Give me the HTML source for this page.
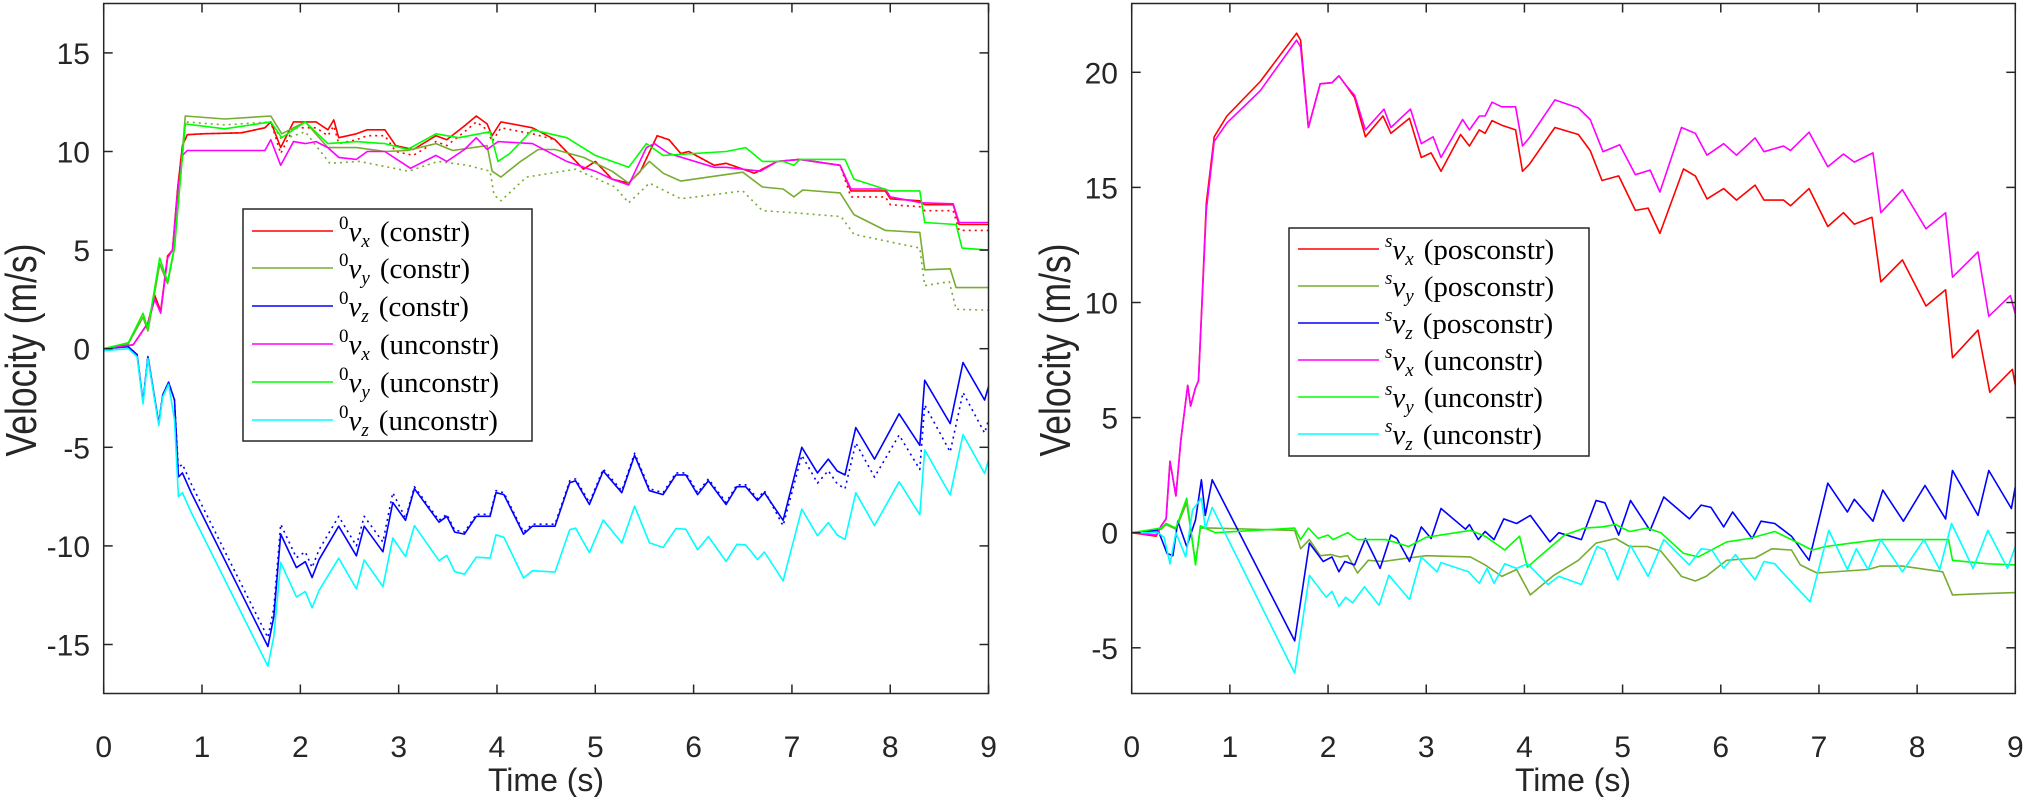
<!DOCTYPE html>
<html><head><meta charset="utf-8">
<style>
html,body{margin:0;padding:0;background:#fff;}
svg{display:block;}
text{font-family:"Liberation Sans",Arial,sans-serif;fill:#262626;}
.lg{font-family:"Liberation Serif",serif;fill:#000;font-size:29px;}
</style></head>
<body>
<svg id="s" width="2025" height="797" viewBox="0 0 2025 797" xmlns="http://www.w3.org/2000/svg">
<rect width="2025" height="797" fill="#fff"/>
<g id="plots"></g>
<g id="axes"></g>
<text x="20" y="350" font-size="44" text-anchor="middle" transform="rotate(-90 20 350)" dy="16" textLength="213" lengthAdjust="spacingAndGlyphs">Velocity (m/s)</text>
<text x="1054" y="350" font-size="44" text-anchor="middle" transform="rotate(-90 1054 350)" dy="16" textLength="213" lengthAdjust="spacingAndGlyphs">Velocity (m/s)</text>
<text x="546" y="791" font-size="32" text-anchor="middle">Time (s)</text>
<text x="1573" y="791" font-size="32" text-anchor="middle">Time (s)</text>
<g>
<rect x="243" y="209" width="289" height="232" fill="#fff" stroke="#262626" stroke-width="1.5"/>
<line x1="252" x2="333" y1="231" y2="231" stroke="#FF0000" stroke-width="1.5"/>
<line x1="252" x2="333" y1="268" y2="268" stroke="#77AC30" stroke-width="1.5"/>
<line x1="252" x2="333" y1="306" y2="306" stroke="#0000FF" stroke-width="1.5"/>
<line x1="252" x2="333" y1="344" y2="344" stroke="#FF00FF" stroke-width="1.5"/>
<line x1="252" x2="333" y1="382" y2="382" stroke="#00FF00" stroke-width="1.5"/>
<line x1="252" x2="333" y1="420" y2="420" stroke="#00FFFF" stroke-width="1.5"/>
<text class="lg" x="339" y="241"><tspan font-size="19" dy="-12">0</tspan><tspan font-style="italic" dy="12">v</tspan><tspan font-style="italic" font-size="19" dy="6">x</tspan><tspan dy="-6" dx="10">(constr)</tspan></text>
<text class="lg" x="339" y="278"><tspan font-size="19" dy="-12">0</tspan><tspan font-style="italic" dy="12">v</tspan><tspan font-style="italic" font-size="19" dy="6">y</tspan><tspan dy="-6" dx="10">(constr)</tspan></text>
<text class="lg" x="339" y="316"><tspan font-size="19" dy="-12">0</tspan><tspan font-style="italic" dy="12">v</tspan><tspan font-style="italic" font-size="19" dy="6">z</tspan><tspan dy="-6" dx="10">(constr)</tspan></text>
<text class="lg" x="339" y="354"><tspan font-size="19" dy="-12">0</tspan><tspan font-style="italic" dy="12">v</tspan><tspan font-style="italic" font-size="19" dy="6">x</tspan><tspan dy="-6" dx="10">(unconstr)</tspan></text>
<text class="lg" x="339" y="392"><tspan font-size="19" dy="-12">0</tspan><tspan font-style="italic" dy="12">v</tspan><tspan font-style="italic" font-size="19" dy="6">y</tspan><tspan dy="-6" dx="10">(unconstr)</tspan></text>
<text class="lg" x="339" y="430"><tspan font-size="19" dy="-12">0</tspan><tspan font-style="italic" dy="12">v</tspan><tspan font-style="italic" font-size="19" dy="6">z</tspan><tspan dy="-6" dx="10">(unconstr)</tspan></text>
</g>
<g>
<rect x="1289" y="228" width="300" height="228" fill="#fff" stroke="#262626" stroke-width="1.5"/>
<line x1="1298" x2="1379" y1="249" y2="249" stroke="#FF0000" stroke-width="1.5"/>
<line x1="1298" x2="1379" y1="286" y2="286" stroke="#77AC30" stroke-width="1.5"/>
<line x1="1298" x2="1379" y1="323" y2="323" stroke="#0000FF" stroke-width="1.5"/>
<line x1="1298" x2="1379" y1="360" y2="360" stroke="#FF00FF" stroke-width="1.5"/>
<line x1="1298" x2="1379" y1="397" y2="397" stroke="#00FF00" stroke-width="1.5"/>
<line x1="1298" x2="1379" y1="434" y2="434" stroke="#00FFFF" stroke-width="1.5"/>
<text class="lg" x="1385" y="259"><tspan font-size="19" dy="-12" font-style="italic">s</tspan><tspan font-style="italic" dy="12">v</tspan><tspan font-style="italic" font-size="19" dy="6">x</tspan><tspan dy="-6" dx="10">(posconstr)</tspan></text>
<text class="lg" x="1385" y="296"><tspan font-size="19" dy="-12" font-style="italic">s</tspan><tspan font-style="italic" dy="12">v</tspan><tspan font-style="italic" font-size="19" dy="6">y</tspan><tspan dy="-6" dx="10">(posconstr)</tspan></text>
<text class="lg" x="1385" y="333"><tspan font-size="19" dy="-12" font-style="italic">s</tspan><tspan font-style="italic" dy="12">v</tspan><tspan font-style="italic" font-size="19" dy="6">z</tspan><tspan dy="-6" dx="10">(posconstr)</tspan></text>
<text class="lg" x="1385" y="370"><tspan font-size="19" dy="-12" font-style="italic">s</tspan><tspan font-style="italic" dy="12">v</tspan><tspan font-style="italic" font-size="19" dy="6">x</tspan><tspan dy="-6" dx="10">(unconstr)</tspan></text>
<text class="lg" x="1385" y="407"><tspan font-size="19" dy="-12" font-style="italic">s</tspan><tspan font-style="italic" dy="12">v</tspan><tspan font-style="italic" font-size="19" dy="6">y</tspan><tspan dy="-6" dx="10">(unconstr)</tspan></text>
<text class="lg" x="1385" y="444"><tspan font-size="19" dy="-12" font-style="italic">s</tspan><tspan font-style="italic" dy="12">v</tspan><tspan font-style="italic" font-size="19" dy="6">z</tspan><tspan dy="-6" dx="10">(unconstr)</tspan></text>
</g>
</svg>
<script>
(function(){
var NS="http://www.w3.org/2000/svg";
var plots=document.getElementById("plots"),axes=document.getElementById("axes");
function el(p,n,a,t){var e=document.createElementNS(NS,n);for(var k in a)e.setAttribute(k,a[k]);if(t!==undefined)e.textContent=t;p.appendChild(e);return e;}
var L={x0:103.7,sx:98.32,y0:348.7,sy:19.72,xr:988.5};
var R={x0:1131.7,sx:98.18,y0:532.7,sy:23.02,xr:2015.3};
var top=3.5,bot=693.5;
function pts(m,d,f){var s=[];for(var i=0;i<d.length;i+=2){var t=d[i],v=d[i+1];if(f)v+=f(t);s.push((m.x0+t*m.sx).toFixed(1)+","+(m.y0-v*m.sy).toFixed(1));}return s.join(" ");}
function line(m,d,c,dash,f){var a={points:pts(m,d,f),fill:"none",stroke:c,"stroke-width":"1.6","stroke-linejoin":"round"};if(dash)a["stroke-dasharray"]="2 4";el(plots,"polyline",a);}
var redC=[0,0,0.3,0.2,0.45,1.3,0.52,2.7,0.58,1.9,0.65,4.7,0.7,5.0,0.75,8,0.8,10.3,0.85,10.85,1.0,10.9,1.4,10.95,1.64,11.2,1.7,11.5,1.8,10.2,1.93,11.5,2.16,11.5,2.28,11.1,2.34,11.6,2.39,10.7,2.57,10.9,2.68,11.1,2.86,11.1,2.97,10.3,3.15,10.1,3.38,10.8,3.49,10.6,3.67,11.3,3.79,11.8,3.9,11.4,3.95,10.8,4.04,11.5,4.36,11.2,4.59,10.6,4.88,9.1,5.0,9.5,5.17,8.6,5.34,8.4,5.46,9.0,5.63,10.8,5.75,10.6,5.87,9.9,5.95,10.0,6.21,9.3,6.33,9.4,6.62,8.9,6.85,9.5,7.08,9.6,7.49,9.3,7.6,8.0,7.95,8.0,8.0,7.6,8.3,7.5,8.35,7.3,8.64,7.3,8.7,6.3,9,6.3];
var magL=[0,0,0.3,0.2,0.45,1.3,0.52,2.5,0.58,1.8,0.65,4.6,0.7,5.0,0.75,7.8,0.8,9.8,0.85,10.05,1.2,10.05,1.64,10.05,1.7,10.6,1.8,9.3,1.93,10.5,2.05,10.4,2.16,10.5,2.28,10.2,2.39,9.7,2.57,9.6,2.68,10,2.86,10,3.12,9.15,3.38,9.8,3.49,9.5,3.67,10.1,3.79,10.7,3.9,10.1,4.01,10.5,4.36,10.4,4.71,9.5,5.0,9.0,5.17,8.6,5.34,8.3,5.52,10.2,5.6,10.4,5.75,9.9,6.21,9.2,6.33,9.2,6.68,9.0,6.85,9.5,7.08,9.6,7.49,9.3,7.6,8.1,7.95,8.1,8.0,7.7,8.32,7.4,8.64,7.35,8.7,6.4,9,6.4];
var limeL=[0,0,0.25,0.3,0.4,1.8,0.45,1.0,0.57,4.6,0.65,3.4,0.72,5.2,0.83,11.4,1.23,11.15,1.7,11.5,1.81,10.7,2.05,11.5,2.28,10.4,2.57,10.5,2.86,10.4,3.09,10.1,3.38,10.9,3.61,10.7,3.93,11.0,4.01,9.5,4.13,9.9,4.36,11.1,4.71,10.7,5.0,9.8,5.34,9.2,5.52,10.4,5.69,9.8,6.33,10.0,6.53,10.2,6.7,9.5,6.91,9.5,7.02,9.3,7.08,9.6,7.54,9.6,7.63,8.6,8.0,8.0,8.3,8.0,8.35,6.4,8.67,6.3,8.73,5.1,9,5.0];
var oliveC=[0,0,0.25,0.25,0.4,1.6,0.45,0.9,0.57,4.3,0.65,3.3,0.72,5.1,0.83,11.8,1.23,11.65,1.7,11.8,1.81,10.9,2.05,11.5,2.28,10.2,2.57,10.2,2.86,10,3.09,10.05,3.38,10.4,3.55,10.05,3.9,10.3,3.95,9.0,4.04,8.7,4.24,9.5,4.42,10.1,4.59,10.1,4.88,9.7,5.17,9.0,5.34,8.4,5.55,9.5,5.69,8.9,5.87,8.5,6.15,8.7,6.5,8.95,6.7,8.2,6.91,8.1,7.02,7.7,7.11,8.05,7.49,7.9,7.63,6.8,7.95,6.0,8.3,5.9,8.35,4.0,8.61,4.05,8.67,3.1,9,3.1];
var oliveD=[0,0,0.25,0.25,0.4,1.6,0.45,0.9,0.57,4.3,0.65,3.3,0.72,5.1,0.83,11.5,1.23,11.35,1.7,11.5,1.81,10.6,2.05,11.0,2.3,9.4,2.6,9.5,3.1,9.0,3.4,9.5,3.7,9.3,3.93,9.0,3.97,7.8,4.04,7.5,4.3,8.7,4.8,9.1,5.2,8.2,5.34,7.4,5.55,8.4,5.87,7.6,6.5,8.0,6.7,7.0,7.0,6.9,7.5,6.7,7.63,5.8,8.3,5.1,8.35,3.2,8.6,3.4,8.67,2.0,9,1.95];
var blueC=[0,0,0.25,0.1,0.34,-0.3,0.4,-2.7,0.45,-0.4,0.56,-3.8,0.6,-2.35,0.66,-1.7,0.72,-2.6,0.76,-6.5,0.8,-6.3,0.89,-7.3,1.67,-15.1,1.73,-13.6,1.8,-9.4,1.96,-11.1,2.05,-10.8,2.12,-11.6,2.19,-10.7,2.39,-9.0,2.57,-10.5,2.65,-9.0,2.84,-10.3,2.94,-7.8,3.07,-8.7,3.16,-7.1,3.41,-8.8,3.49,-8.5,3.57,-9.3,3.67,-9.4,3.79,-8.5,3.93,-8.5,3.99,-7.3,4.07,-7.4,4.27,-9.4,4.36,-9.0,4.59,-9.0,4.74,-6.8,4.8,-6.7,4.94,-7.9,5.08,-6.2,5.27,-7.3,5.4,-5.4,5.55,-7.2,5.69,-7.4,5.82,-6.4,5.92,-6.4,6.04,-7.4,6.15,-6.7,6.33,-7.9,6.44,-7.0,6.53,-7.0,6.65,-7.7,6.72,-7.3,6.91,-8.7,7.1,-5.0,7.26,-6.3,7.37,-5.6,7.46,-6.2,7.54,-6.4,7.65,-4.0,7.84,-5.6,8.09,-3.3,8.3,-4.9,8.35,-1.6,8.61,-3.8,8.74,-0.7,8.96,-2.6,9,-1.9];
function blueDoff(t){if(t<0.74)return 0;if(t<1.75)return 0.45;if(t<3)return 0.5;if(t<6.8)return 0.1;return -0.2-1.5*(t-6.8)/2.2;}
function cyanOff(t){if(t<0.7)return -0.1;if(t<1.75)return -1.0;return -(1.5+0.32*(t-2));}
line(L,redC,"#FF0000",true,function(t){return (t>1.75&&t<4.45)?-0.3:(t>7.55?-0.3:0);});
line(L,oliveD,"#77AC30",true);
line(L,blueC,"#0000FF",true,blueDoff);
line(L,redC,"#FF0000");
line(L,oliveC,"#77AC30");
line(L,blueC,"#0000FF");
line(L,magL,"#FF00FF");
line(L,limeL,"#00FF00");
line(L,blueC,"#00FFFF",false,cyanOff);
var redR=[0,0,0.25,-0.15,0.3,0.3,0.35,0.6,0.39,3.1,0.45,1.6,0.5,4.0,0.57,6.4,0.6,5.5,0.65,6.3,0.68,6.6,0.76,14.3,0.84,17.2,0.97,18.1,1.31,19.6,1.68,21.7,1.72,21.4,1.8,17.6,1.92,19.5,2.04,19.55,2.11,19.85,2.18,19.45,2.27,18.9,2.38,17.2,2.56,18.1,2.64,17.35,2.83,18.0,2.95,16.3,3.05,16.5,3.15,15.7,3.35,17.3,3.44,16.8,3.54,17.5,3.6,17.35,3.67,17.9,3.77,17.7,3.91,17.5,3.98,15.7,4.05,16.0,4.31,17.6,4.55,17.3,4.67,16.6,4.79,15.3,4.96,15.5,5.13,14.0,5.26,14.1,5.38,13.0,5.62,15.8,5.74,15.5,5.86,14.5,6.03,14.95,6.16,14.45,6.35,15.1,6.44,14.45,6.64,14.45,6.71,14.2,6.9,14.95,7.09,13.3,7.25,13.9,7.36,13.4,7.54,13.7,7.63,10.9,7.85,11.85,8.09,9.85,8.29,10.55,8.36,7.6,8.62,8.8,8.74,6.1,8.97,7.1,9,6.4];
var magR=[0,0,0.25,-0.1,0.3,0.3,0.35,0.6,0.39,3.1,0.45,1.6,0.5,4.0,0.57,6.4,0.6,5.5,0.65,6.3,0.68,6.6,0.76,14.0,0.84,17.0,0.97,17.8,1.31,19.2,1.68,21.4,1.72,21.1,1.8,17.6,1.92,19.5,2.04,19.55,2.11,19.85,2.18,19.45,2.27,19.0,2.38,17.5,2.57,18.4,2.64,17.6,2.84,18.4,2.95,16.9,3.07,17.2,3.15,16.3,3.37,17.95,3.44,17.5,3.54,18.1,3.6,18.1,3.67,18.7,3.77,18.5,3.91,18.5,3.98,16.8,4.05,17.15,4.31,18.8,4.55,18.45,4.67,17.95,4.8,16.55,4.97,16.85,5.13,15.55,5.28,15.75,5.38,14.8,5.6,17.6,5.74,17.35,5.86,16.4,6.03,16.9,6.16,16.4,6.35,17.15,6.44,16.55,6.64,16.8,6.71,16.6,6.9,17.4,7.09,15.9,7.25,16.45,7.36,16.1,7.55,16.5,7.63,13.9,7.85,14.9,8.09,13.2,8.29,13.9,8.36,11.1,8.62,12.2,8.73,9.4,8.95,10.3,9,9.5];
var blueR=[0,0,0.27,0.1,0.36,-0.9,0.42,-1.0,0.47,0.5,0.56,-0.6,0.65,0.55,0.71,2.3,0.75,0.75,0.82,2.3,1.66,-4.7,1.81,-0.45,1.95,-1.25,2.04,-1.05,2.11,-1.7,2.17,-1.25,2.27,-1.4,2.38,-0.25,2.53,-1.55,2.64,-0.1,2.7,-0.25,2.83,-1.25,2.95,0.25,3.05,-0.25,3.15,1.05,3.4,0.15,3.44,0.35,3.53,-0.3,3.6,0.05,3.69,-0.3,3.79,0.6,3.92,0.4,4.06,0.75,4.26,-0.4,4.35,0.0,4.58,-0.3,4.73,1.4,4.82,1.3,4.96,-0.1,5.08,1.4,5.28,0.1,5.42,1.55,5.68,0.6,5.8,1.2,5.9,1.1,6.03,0.25,6.12,0.9,6.32,-0.25,6.41,0.5,6.55,0.4,6.72,-0.15,6.9,-1.2,7.09,2.15,7.29,0.9,7.36,1.45,7.48,0.85,7.55,0.5,7.65,1.85,7.86,0.5,8.08,2.05,8.29,0.6,8.36,2.7,8.62,0.75,8.73,2.7,8.96,1.05,9,2.0];
var cyanR=[0,0,0.27,0,0.33,-0.2,0.39,-1.35,0.45,0,0.55,-1.05,0.62,1.0,0.71,1.5,0.75,0.2,0.82,1.1,1.66,-6.1,1.81,-1.85,1.98,-2.8,2.04,-2.55,2.11,-3.2,2.18,-2.8,2.25,-3.05,2.37,-2.35,2.52,-3.15,2.62,-1.85,2.83,-2.9,2.95,-1.05,3.11,-1.7,3.15,-1.3,3.43,-1.7,3.54,-2.2,3.62,-1.55,3.69,-2.2,3.8,-1.35,3.92,-1.55,4.03,-1.35,4.24,-2.25,4.35,-1.9,4.58,-2.25,4.74,-0.6,4.82,-0.75,4.95,-2.05,5.08,-0.55,5.26,-1.9,5.42,-0.3,5.68,-1.4,5.8,-0.7,5.91,-0.75,6.03,-1.55,6.15,-0.95,6.35,-2.05,6.44,-1.25,6.55,-1.35,6.7,-2.05,6.91,-3.0,7.1,0.1,7.29,-1.6,7.38,-0.7,7.5,-1.6,7.63,-0.3,7.85,-1.7,8.07,-0.3,8.23,-1.6,8.35,0.4,8.57,-1.55,8.72,0.1,8.92,-1.55,9,-0.6];
var limeR=[0,0,0.3,0.2,0.35,0.4,0.45,0.2,0.56,1.5,0.65,-1.4,0.7,0.3,0.8,0.1,0.85,0.0,1.66,0.2,1.72,-0.3,1.8,0.2,1.9,-0.25,2.0,-0.1,2.05,-0.3,2.2,0.0,2.3,-0.3,2.59,-0.3,2.82,-0.6,3.0,-0.2,3.45,0.1,3.6,-0.15,3.8,-0.75,3.95,-0.15,4.03,-1.5,4.15,-1.05,4.41,-0.1,4.61,0.2,4.79,0.25,4.93,0.35,5.07,0.05,5.25,0.2,5.39,0.0,5.62,-0.9,5.77,-1.05,6.06,-0.4,6.29,-0.25,6.55,0.05,6.72,-0.3,6.93,-0.75,7.07,-0.6,7.33,-0.45,7.62,-0.3,8.08,-0.3,8.32,-0.3,8.36,-1.2,8.72,-1.35,9,-1.4];
var oliveR=[0,0,0.3,0.15,0.35,0.35,0.45,0.15,0.56,1.3,0.65,-1.3,0.7,0.2,0.82,0.2,1.66,0.1,1.72,-0.7,1.81,-0.3,1.92,-1.0,2.03,-0.95,2.12,-1.05,2.2,-1.0,2.3,-1.75,2.41,-1.2,2.56,-1.25,2.82,-1.1,3.0,-1.0,3.45,-1.05,3.6,-1.4,3.77,-1.9,3.92,-1.6,4.06,-2.7,4.3,-1.85,4.55,-1.2,4.73,-0.45,4.93,-0.25,5.07,-0.6,5.25,-0.6,5.39,-0.8,5.6,-1.9,5.74,-2.1,5.85,-1.9,6.06,-1.2,6.35,-1.1,6.52,-0.7,6.72,-0.75,6.81,-1.4,6.98,-1.75,7.5,-1.6,7.62,-1.45,7.85,-1.45,8.26,-1.7,8.36,-2.7,8.66,-2.65,9,-2.6];
line(R,redR,"#FF0000");
line(R,oliveR,"#77AC30");
line(R,blueR,"#0000FF");
line(R,magR,"#FF00FF");
line(R,limeR,"#00FF00");
line(R,cyanR,"#00FFFF");
function drawAxes(m,ylo,yhi,labx){
 var ax="#262626";
 el(axes,"rect",{x:m.x0,y:top,width:(m.xr-m.x0),height:bot-top,fill:"none",stroke:ax,"stroke-width":"1.5"});
 for(var t=0;t<=9;t++){var x=m.x0+t*m.sx;
  el(axes,"line",{x1:x,x2:x,y1:bot,y2:bot-9,stroke:ax,"stroke-width":"1.5"});
  el(axes,"line",{x1:x,x2:x,y1:top,y2:top+9,stroke:ax,"stroke-width":"1.5"});
  el(axes,"text",{x:x,y:757,"font-size":"30","text-anchor":"middle"},String(t));}
 for(var v=ylo;v<=yhi;v+=5){var y=m.y0-v*m.sy;
  el(axes,"line",{x1:m.x0,x2:m.x0+9,y1:y,y2:y,stroke:ax,"stroke-width":"1.5"});
  el(axes,"line",{x1:m.xr,x2:m.xr-9,y1:y,y2:y,stroke:ax,"stroke-width":"1.5"});
  el(axes,"text",{x:labx,y:y+11,"font-size":"30","text-anchor":"end"},String(v));}
}
drawAxes(L,-15,15,90);
drawAxes(R,-5,20,1118);
})();
</script>
</body></html>
